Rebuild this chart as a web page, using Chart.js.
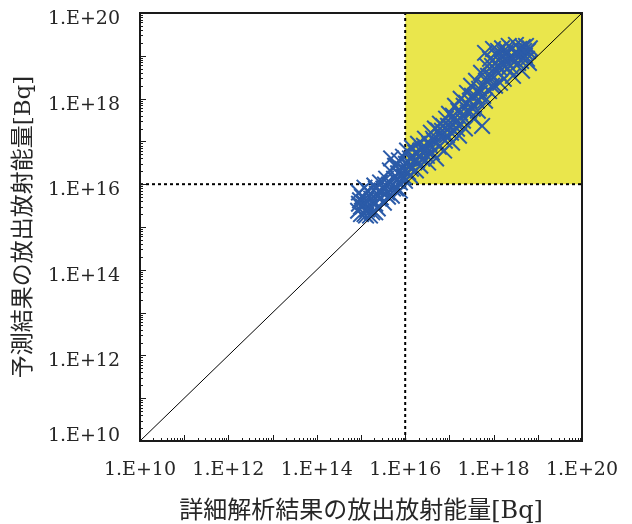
<!DOCTYPE html>
<html><head><meta charset="utf-8">
<script src="https://cdn.jsdelivr.net/npm/chart.js@4.4.1/dist/chart.umd.min.js"></script>
<style>html,body{margin:0;padding:0;background:#fff;} #wrap{width:632px;height:524px;}</style>
</head><body><div id="wrap"><canvas id="c" width="632" height="524"></canvas></div>
<script>
// 詳細解析結果の放出放射能量 [Bq] (x) vs 予測結果の放出放射能量 [Bq] (y)
const detailX = [
  8.6e14, 9.0e14, 9.5e14, 1.0e15, 1.05e15, 1.1e15, 1.2e15, 1.2e15, 1.3e15, 1.3e15,
  1.4e15, 1.5e15, 1.7e15, 1.8e15, 2.0e15, 2.1e15, 2.3e15, 2.4e15, 2.7e15, 2.8e15,
  3.2e15, 3.3e15, 3.7e15, 3.9e15,
  9.0e14, 1.0e15, 1.17e15, 1.37e15, 1.6e15, 1.87e15, 2.18e15, 2.55e15, 2.99e15, 3.49e15,
  4.08e15, 2.1e15, 1.6e15,
  4.3e15, 4.5e15, 4.8e15, 5.0e15, 5.6e15, 5.9e15, 6.2e15, 6.9e15, 7.2e15, 7.6e15,
  8.5e15, 8.9e15, 9.4e15, 1.04e16, 1.1e16, 1.16e16, 1.28e16, 1.35e16, 1.43e16, 1.6e16,
  1.7e16, 1.75e16, 1.95e16, 2.05e16, 2.2e16,
  5.3e15, 6.5e15, 8.0e15, 9.9e15, 1.22e16, 1.5e16, 1.85e16, 9.9e15, 1.28e16, 7.6e15,
  6.2e15, 2.2e16,
  2.4e16, 2.5e16, 2.8e16, 3.0e16, 3.3e16, 3.5e16, 3.8e16, 4.0e16, 4.5e16, 4.7e16,
  5.0e16, 5.5e16, 5.8e16, 6.1e16, 6.5e16, 7.2e16, 7.6e16, 8.4e16, 8.8e16, 9.8e16,
  1.03e17, 1.15e17, 1.2e17, 1.34e17, 1.4e17, 1.6e17, 1.65e17, 1.8e17, 1.9e17, 2.1e17,
  2.25e17, 2.5e17, 2.6e17, 2.9e17, 3.1e17, 3.4e17,
  2.66e16, 3.1e16, 3.64e16, 4.26e16, 5.24e16, 6.8e16, 7.9e16, 9.3e16, 1.09e17, 1.27e17,
  1.49e17, 1.74e17, 2.03e17, 2.38e17, 2.78e17, 3.24e17, 3.6e17,
  3.8e17, 4.0e17, 4.4e17, 4.7e17, 5.2e17, 5.5e17, 5.8e17, 6.4e17, 6.7e17, 7.1e17,
  7.9e17, 8.3e17, 8.7e17, 9.7e17, 1.02e18, 1.08e18, 1.2e18, 1.26e18, 1.3e18, 1.5e18,
  1.55e18, 1.7e18, 1.8e18, 1.9e18, 2.1e18, 2.2e18, 2.5e18, 2.6e18, 2.75e18, 3.0e18,
  3.2e18, 3.6e18, 3.8e18, 4.0e18, 4.4e18, 4.6e18, 5.1e18, 5.4e18, 6.0e18, 6.3e18,
  6.6e18,
  4.2e17, 4.9e17, 6.1e17, 7.5e17, 9.2e17, 1.13e18, 1.4e18, 1.63e18, 2.0e18, 2.35e18,
  2.9e18, 3.4e18, 4.2e18, 4.9e18, 5.7e18, 1.4e18, 9.2e17, 6.4e17
];
const predictedY = [
  2.4e15, 3.5e15, 4.2e15, 2.0e15, 5.1e15, 3.0e15, 2.0e15, 8.3e15, 1.85e15, 4.2e15,
  7.1e15, 2.9e15, 4.6e15, 2.2e15, 9.3e15, 3.5e15, 6.0e15, 2.7e15, 1.1e16, 4.9e15,
  7.9e15, 3.7e15, 1.35e16, 6.4e15,
  6.4e15, 3.0e15, 3.7e15, 2.56e15, 6.0e15, 4.2e15, 7.9e15, 4.6e15, 6.4e15, 9.8e15,
  5.1e15, 2.2e15, 1.85e15,
  9.8e15, 2.1e16, 4.0e16, 5.4e15, 1.35e16, 2.7e16, 7.9e15, 1.8e16, 3.6e16, 1.1e16,
  2.3e16, 4.4e16, 1.5e16, 3.0e16, 6.1e16, 1.9e16, 4.0e16, 2.3e16, 7.1e16, 3.6e16,
  5.5e16, 2.1e16, 8.8e16, 4.4e16, 2.7e16,
  7.9e15, 1.2e16, 1.6e16, 2.1e16, 2.7e16, 4.4e16, 3.6e16, 1.2e16, 1.6e16, 7.1e15,
  2.7e16, 6.1e16,
  6.8e16, 4.0e16, 1.16e17, 6.1e16, 3.2e16, 8.8e16, 1.6e17, 5.5e16, 1.04e17, 2.0e17,
  4.0e16, 1.8e17, 7.5e16, 2.6e17, 1.3e17, 2.3e17, 6.1e16, 3.4e17, 1.4e17, 4.4e17,
  2.2e17, 9.3e16, 4.0e17, 6.8e17, 2.7e17, 5.2e17, 1.36e17, 9.9e17, 4.0e17, 6.8e17,
  2.0e17, 1.36e18, 4.7e17, 8.9e17, 2.0e18, 5.8e17,
  7.9e16, 4.6e16, 7.9e16, 1.16e17, 9.3e16, 1.77e17, 1.04e17, 2.32e17, 1.6e17, 3.38e17,
  1.98e17, 4.67e17, 3.04e17, 7.98e17, 5.2e17, 1.16e18, 3.38e17,
  1.16e18, 2.6e18, 5.2e17, 1.7e18, 4.0e18, 2.3e17, 1.16e18, 1.17e19, 2.6e18, 5.8e18,
  1.5e18, 8.5e18, 3.4e18, 1.45e19, 5.0e18, 2.0e18, 1.0e19, 1.3e19, 4.0e18, 6.8e18,
  1.5e19, 2.9e18, 1.1e19, 7.6e18, 5.0e18, 1.7e19, 8.5e18, 1.45e19, 3.4e18, 1.17e19,
  1.8e19, 6.8e18, 1.45e19, 1.0e19, 4.5e18, 1.6e19, 1.0e19, 1.7e19, 1.3e19, 6.8e18,
  1.5e19,
  8.9e17, 1.36e18, 2.0e18, 3.4e18, 5.8e18, 6.8e18, 5.0e18, 1.0e19, 1.3e19, 5.8e18,
  8.5e18, 1.17e19, 7.6e18, 1.3e19, 8.5e18, 2.33e18, 2.0e18, 8.9e17
];
const axisMin = 1e10;
const axisMax = 1e20;
const threshold = 1e16;
const labelledTicks = [1e10, 1e12, 1e14, 1e16, 1e18, 1e20];
const tickLabels = ['1.E+10', '1.E+12', '1.E+14', '1.E+16', '1.E+18', '1.E+20'];
const xTitle = '詳細解析結果の放出放射能量[Bq]';
const yTitle = '予測結果の放出放射能量[Bq]';

const LABEL_FONT = "'DejaVu Serif', serif";
const TITLE_FONT = "'DejaVu Serif', 'Noto Sans CJK JP', serif";
const TEXT = '#262626';

function isDecade(v) {
  const l = Math.log10(v);
  return Math.abs(l - Math.round(l)) < 1e-9;
}
function labelIndex(v) {
  for (let i = 0; i < labelledTicks.length; i++) {
    if (Math.abs(Math.log10(v) - Math.log10(labelledTicks[i])) < 1e-9) return i;
  }
  return -1;
}
function buildLogTicks(scale) {
  const ticks = [];
  const e0 = Math.round(Math.log10(axisMin)), e1 = Math.round(Math.log10(axisMax));
  for (let e = e0; e < e1; e++) {
    for (let m = 1; m <= 9; m++) ticks.push({ value: m * Math.pow(10, e) });
  }
  ticks.push({ value: axisMax });
  scale.ticks = ticks;
}

const framePlugin = {
  id: 'frame',
  afterDatasetsDraw(chart) {
    const { ctx, chartArea: a, scales: { x, y } } = chart;
    ctx.save();
    ctx.strokeStyle = '#1a1a1a';
    ctx.lineWidth = 1;
    ctx.beginPath();
    x.ticks.forEach(t => {
      const px = Math.round(x.getPixelForValue(t.value)) + 0.5;
      const len = isDecade(t.value) ? 6 : 3;
      ctx.moveTo(px, a.bottom); ctx.lineTo(px, a.bottom - len);
    });
    y.ticks.forEach(t => {
      const py = Math.round(y.getPixelForValue(t.value)) + 0.5;
      const len = isDecade(t.value) ? 6 : 3;
      ctx.moveTo(a.left, py); ctx.lineTo(a.left + len, py);
    });
    ctx.stroke();
    ctx.lineWidth = 2;
    ctx.strokeRect(a.left, a.top, a.right - a.left, a.bottom - a.top);
    ctx.restore();
  }
};

const points = detailX.map((v, i) => ({ x: v, y: predictedY[i] }));

new Chart(document.getElementById('c'), {
  type: 'scatter',
  data: {
    datasets: [
      {
        label: 'region',
        data: [{ x: threshold, y: axisMax }, { x: axisMax, y: axisMax }],
        showLine: true, fill: { value: threshold },
        backgroundColor: '#EAE64C', borderColor: 'rgba(0,0,0,0)', borderWidth: 0,
        pointRadius: 0, order: 5
      },
      {
        label: 'vline',
        data: [{ x: threshold, y: axisMin }, { x: threshold, y: axisMax }],
        showLine: true, borderColor: '#000', borderWidth: 2, borderDash: [3, 3],
        pointRadius: 0, order: 4
      },
      {
        label: 'hline',
        data: [{ x: axisMin, y: threshold }, { x: axisMax, y: threshold }],
        showLine: true, borderColor: '#000', borderWidth: 2, borderDash: [3, 3],
        pointRadius: 0, order: 3
      },
      {
        label: 'data',
        data: points,
        showLine: false, pointStyle: 'crossRot', pointRadius: 11,
        borderColor: '#2B5BA8', backgroundColor: '#2B5BA8', pointBorderWidth: 2,
        order: 2
      },
      {
        label: 'diag',
        data: [{ x: axisMin, y: axisMin }, { x: axisMax, y: axisMax }],
        showLine: true, borderColor: '#000', borderWidth: 1, pointRadius: 0, order: 1
      }
    ]
  },
  options: {
    responsive: false,
    animation: false,
    events: [],
    layout: { padding: { top: 12, right: 50, left: 0, bottom: 0 } },
    plugins: { legend: { display: false }, tooltip: { enabled: false } },
    scales: {
      x: {
        type: 'logarithmic', position: 'bottom', min: axisMin, max: axisMax,
        grid: { display: false, drawTicks: false }, border: { display: false },
        afterBuildTicks: buildLogTicks,
        afterFit: s => { s.height = 83; s.paddingLeft = 0; s.paddingRight = 0; },
        ticks: {
          autoSkip: false, maxRotation: 0, minRotation: 0, padding: 18,
          font: { family: LABEL_FONT, size: 19 }, color: TEXT,
          callback: v => { const i = labelIndex(v); return i < 0 ? '' : tickLabels[i]; }
        },
        title: {
          display: true, text: xTitle, color: TEXT,
          font: { family: TITLE_FONT, size: 24 }, padding: { top: 0, bottom: -2 }
        }
      },
      y: {
        type: 'logarithmic', position: 'left', min: axisMin, max: axisMax,
        grid: { display: false, drawTicks: false }, border: { display: false },
        afterBuildTicks: buildLogTicks,
        afterFit: s => { s.width = 140; s.paddingTop = 0; s.paddingBottom = 0; },
        ticks: {
          autoSkip: false, padding: 20, labelOffset: 6,
          font: { family: LABEL_FONT, size: 19 }, color: TEXT,
          callback: v => {
            const i = labelIndex(v);
            if (i < 0) return '';
            return i === 0 ? [tickLabels[i], ''] : tickLabels[i];
          }
        },
        title: {
          display: true, text: yTitle, color: TEXT,
          font: { family: TITLE_FONT, size: 23 }, padding: { top: 10, bottom: 0 }
        }
      }
    }
  },
  plugins: [framePlugin]
});
</script>
</body></html>
